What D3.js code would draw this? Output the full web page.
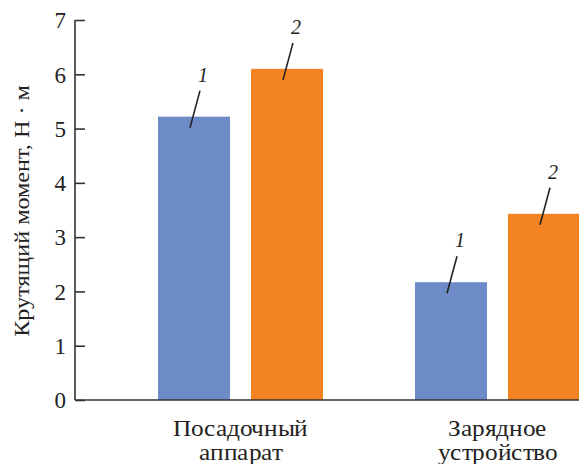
<!DOCTYPE html>
<html><head><meta charset="utf-8">
<style>
@font-face{font-family:"ChartSerif";src:local("Liberation Serif"),local("LiberationSerif-Regular"),local("Times New Roman");}
@font-face{font-family:"ChartSerif";font-style:italic;src:local("Liberation Serif Italic"),local("LiberationSerif-Italic");}
</style>
<script src="https://cdn.jsdelivr.net/npm/d3@7"></script>
</head><body>
<script>
const groups = [["Посадочный","аппарат"],["Зарядное","устройство"]];
const series = ["1","2"];
const values = [[5.22, 6.10],[2.17, 3.43]];
const yTicks = [0,1,2,3,4,5,6,7];
const yTitle = "Крутящий момент, Н · м";
const colors = ["#6c8bc7","#f38321"];

const fams=["Liberation Serif","Times New Roman","ChartSerif"];
const INK="#222";
const W=579,H=464;
d3.select("body").style("margin","0px");
const svg=d3.select("body").append("svg").attr("width",W).attr("height",H).style("display","block");
const y=d3.scaleLinear().domain([0,7]).range([400,20]);
const x0=d3.scaleBand().domain(d3.range(groups.length)).range([112,626]).padding(0);
const x1=d3.scaleBand().domain(series).range([0,165]).paddingInner(21/93).paddingOuter(0);
const gOff = (x0.bandwidth()-165)/2;

// bars
values.forEach((vals,gi)=>{
  const g=svg.append("g").attr("transform",`translate(${x0(gi)+gOff},0)`);
  g.selectAll("rect").data(vals).join("rect")
    .attr("x",(d,i)=>x1(series[i])).attr("y",d=>y(d))
    .attr("width",x1.bandwidth()).attr("height",d=>y(0)-y(d))
    .attr("fill",(d,i)=>colors[i]);
  vals.forEach((d,i)=>{
    const cx=x1(series[i])+x1.bandwidth()/2 - 4;
    const y1=y(d)+11, y2=y(d)-26;
    g.append("line").attr("x1",cx).attr("y1",y1).attr("x2",cx+10).attr("y2",y2)
      .attr("stroke",INK).attr("stroke-width",1.6);
    g.append("text").attr("x",cx+13).attr("y",y2-9).style("font-family",`'${fams[0]}'`)
      .style("font-style","italic").attr("font-size",20).attr("text-anchor","middle").attr("fill",INK).text(series[i]);
  });
});

// y axis
const yAxis=d3.axisLeft(y).tickValues(yTicks).tickSize(-10).tickPadding(9).tickFormat(d3.format("d"));
const ga=svg.append("g").attr("transform","translate(75,0)").call(yAxis);
ga.attr("font-family",null).attr("font-size",null);
ga.select(".domain").attr("stroke","#333").attr("stroke-width",1.6).attr("d","M0,20V400");
ga.selectAll(".tick line").attr("stroke","#333").attr("stroke-width",1.6);
ga.selectAll(".tick text").style("font-family",`'${fams[1]}'`).attr("font-size",23).attr("fill",INK).attr("dy","0.34em");

// x axis line
svg.append("line").attr("x1",75).attr("x2",W).attr("y1",y(0)).attr("y2",y(0)).attr("stroke","#333").attr("stroke-width",1.6);

// group labels
const STRETCH=1.1;
groups.forEach((lines,gi)=>{
  const cx=x0(gi)+x0.bandwidth()/2;
  lines.forEach((t,li)=>{
    svg.append("text").attr("transform",`translate(${cx},${436+li*24}) scale(${STRETCH},1)`)
      .style("font-family",`'${fams[2]}'`).attr("font-size",22.5)
      .attr("text-anchor","middle").attr("fill",INK).text(t);
  });
});

// y title
svg.append("text").attr("transform",`translate(29,211) rotate(-90) scale(${STRETCH},1)`)
  .style("font-family",`'${fams[0]}'`).attr("font-size",22)
  .attr("text-anchor","middle").attr("fill",INK).text(yTitle);
</script>
</body></html>
